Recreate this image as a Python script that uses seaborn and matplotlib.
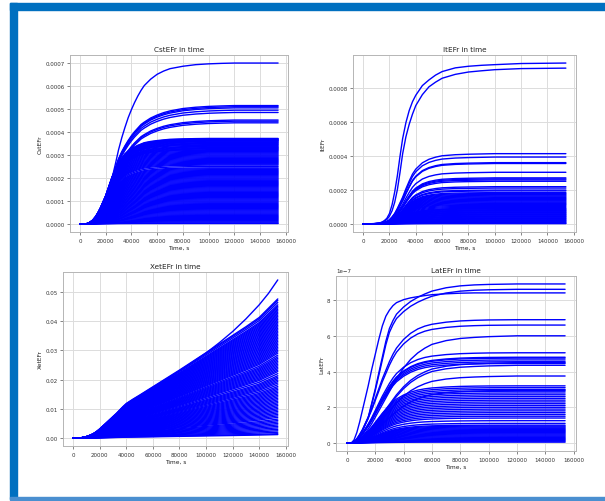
import numpy as np
import pandas as pd
import matplotlib
matplotlib.use("Agg")
import matplotlib.pyplot as plt
from matplotlib.ticker import MultipleLocator
from matplotlib.patches import Rectangle
import seaborn as sns

# ---------------- data ----------------
# CstEFr (plateaus in 1e-6, shapes = fraction of plateau)
cst_t = [0, 4000, 6000, 8000, 10000, 12000, 14000, 16000, 18000, 20000, 22500,
         25000, 27500, 30000, 32500, 35000, 37500, 40000, 42500, 45000, 47500,
         50000, 55000, 60000, 65000, 70000, 80000, 90000, 100000, 110000,
         120000, 135000, 154000]
cst_shape_slow = [0, 0, 0.003, 0.01, 0.025, 0.045, 0.07, 0.10, 0.13, 0.167, 0.22,
                  0.285, 0.37, 0.46, 0.535, 0.60, 0.66, 0.71, 0.755, 0.795, 0.83,
                  0.86, 0.90, 0.93, 0.95, 0.965, 0.98, 0.99, 0.995, 0.998, 1.0,
                  1.0, 1.0]
cst_shape_mid = [0, 0, 0.004, 0.015, 0.03, 0.055, 0.085, 0.12, 0.17, 0.23, 0.31,
                 0.39, 0.47, 0.55, 0.61, 0.66, 0.705, 0.745, 0.78, 0.81, 0.84,
                 0.86, 0.895, 0.92, 0.94, 0.955, 0.975, 0.986, 0.993, 0.997, 1.0,
                 1.0, 1.0]
cst_shape_fast = [0, 0, 0.005, 0.02, 0.045, 0.08, 0.13, 0.19, 0.26, 0.33, 0.44,
                  0.55, 0.64, 0.72, 0.77, 0.82, 0.855, 0.88, 0.90, 0.92, 0.935,
                  0.95, 0.965, 0.975, 0.983, 0.99, 0.995, 0.998, 1.0, 1.0, 1.0,
                  1.0, 1.0]
cst_slow = [700]
cst_mid = [515, 510, 505, 495, 485, 452, 447, 440]
cst_fast = [372, 370, 368, 366, 364, 362, 360, 357, 354, 351, 348, 345, 342, 338,
            335, 332, 329, 326, 323, 320, 316, 312, 308, 304, 300, 296, 292, 288,
            284, 280, 276, 272, 268, 264, 260, 256, 250, 244, 240, 236, 232, 228,
            224, 220, 216, 212, 208, 204, 200, 196, 192, 188, 184, 180, 176, 172,
            168, 164, 160, 156, 152, 148, 144, 140, 136, 132, 128, 124, 120, 116,
            112, 108, 104, 100, 96, 92, 88, 84, 80, 76, 72, 68, 64, 60, 56, 52,
            48, 44, 40, 36, 32, 28, 24, 20, 16, 12, 8, 4, 2]

# ItEFr (plateaus in 1e-6)
it_t = [0, 8000, 12000, 14000, 16000, 18000, 20000, 22000, 24000, 26000, 28000,
        30000, 32500, 35000, 37500, 40000, 45000, 50000, 55000, 60000, 70000,
        80000, 90000, 100000, 120000, 154000]
it_shape_top = [0, 0.002, 0.005, 0.01, 0.02, 0.035, 0.065, 0.12, 0.20, 0.30, 0.42,
                0.53, 0.63, 0.705, 0.76, 0.80, 0.86, 0.895, 0.925, 0.947, 0.97,
                0.98, 0.986, 0.99, 0.997, 1.0]
it_shape_second = [0, 0.002, 0.005, 0.01, 0.017, 0.028, 0.05, 0.085, 0.14, 0.22,
                   0.33, 0.45, 0.56, 0.64, 0.705, 0.76, 0.83, 0.88, 0.91, 0.935,
                   0.96, 0.975, 0.983, 0.99, 0.997, 1.0]
it_shape_mid = [0, 0.003, 0.008, 0.012, 0.02, 0.035, 0.06, 0.10, 0.15, 0.22, 0.30,
                0.38, 0.50, 0.61, 0.71, 0.78, 0.87, 0.92, 0.95, 0.97, 0.985,
                0.992, 0.996, 1.0, 1.0, 1.0]
it_top = [950]
it_second = [920]
it_mid = [415, 395, 362, 357, 305, 272, 266, 260, 252, 220, 212, 200, 195, 185,
          180, 175, 170, 165, 160, 155, 150, 145, 140, 135, 130, 125, 120, 115,
          110, 104, 98, 92, 88, 84, 80, 76, 72, 68, 64, 60, 56, 52, 48, 44, 40,
          36, 32, 28, 24, 20, 16, 12, 8, 4, 2]

# XetEFr (values in 1e-3); reference curves
xet_t = [0, 5000, 8000, 10000, 12500, 15000, 17500, 20000, 22500, 25000, 27500,
         30000, 32500, 35000, 37500, 40000, 42500, 45000, 50000, 60000, 70000,
         80000, 90000, 100000, 110000, 120000, 130000, 140000, 147000, 154000]
xet_top_curve = [0, 0.05, 0.25, 0.5, 0.9, 1.4, 2.1, 3.0, 4.0, 5.0, 6.0, 7.0, 8.0,
                 9.1, 10.2, 11.3, 12.2, 12.8, 13.8, 16.6, 19.6, 22.9, 25.9, 29.0,
                 32.5, 36.3, 40.6, 45.4, 49.3, 53.9]
xet_lin_curve = [0, 0.05, 0.25, 0.5, 0.9, 1.4, 2.1, 3.0, 4.0, 5.0, 6.0, 7.0, 8.0,
                 9.1, 10.2, 11.2, 11.9, 12.6, 13.9, 16.6, 19.3, 22.0, 24.8, 27.6,
                 30.4, 33.2, 36.0, 39.0, 42.0, 45.0]
xet_top = [54]
xet_lin = [47.5, 47, 46.3, 45.5, 45, 44.5, 44, 43.5, 43, 42.5, 42, 41.5, 41, 40.5,
           40, 39.5, 39, 38.5, 38, 37.5, 37, 36.5, 36, 35.5, 35, 34.5, 34, 33.5,
           33, 32.5, 32, 31.5, 31, 30.5, 30, 29.5, 29, 28.3, 27.7, 27.2, 26.7,
           26.2, 25.7, 25.2, 24.7, 24.2, 23.7, 23.2, 22.7, 22, 21.3, 20.8, 20.3,
           19.8, 19.3, 18.8, 18.2, 17.6, 17.1, 16.6, 16.1, 15.6, 15.1, 14.6, 14.1,
           13.6, 13.1, 12.6, 12.1, 11.6, 11.1, 10.6, 10.1, 9.6, 9.1, 8.6, 8.1,
           7.6, 7.1, 6.5, 6.0, 5.5, 5.0, 4.5, 4.0, 3.5, 3.0, 2.5, 2.0, 1.5, 1.2]

# LatEFr (plateaus in 1e-7)
lat_t = [0, 3000, 5000, 7000, 9000, 11000, 13000, 15000, 17500, 20000, 22500,
         25000, 27500, 30000, 32500, 35000, 40000, 45000, 50000, 55000, 60000,
         70000, 80000, 90000, 100000, 120000, 154000]
lat_shape_fast = [0, 0, 0.02, 0.07, 0.14, 0.22, 0.30, 0.38, 0.49, 0.59, 0.69,
                  0.78, 0.845, 0.885, 0.915, 0.935, 0.955, 0.967, 0.975, 0.982,
                  0.988, 0.994, 0.998, 1.0, 1.0, 1.0, 1.0]
lat_shape_top = [0, 0, 0.005, 0.02, 0.045, 0.08, 0.12, 0.16, 0.25, 0.34, 0.44,
                 0.54, 0.64, 0.72, 0.77, 0.81, 0.855, 0.89, 0.916, 0.937, 0.955,
                 0.976, 0.988, 0.994, 0.997, 1.0, 1.0]
lat_shape_mid = [0, 0, 0.01, 0.035, 0.07, 0.11, 0.16, 0.21, 0.28, 0.36, 0.44,
                 0.52, 0.59, 0.66, 0.72, 0.77, 0.84, 0.89, 0.925, 0.948, 0.963,
                 0.98, 0.99, 0.995, 0.998, 1.0, 1.0]
lat_shape_slow = [0, 0, 0.005, 0.02, 0.04, 0.065, 0.095, 0.13, 0.18, 0.24, 0.30,
                  0.36, 0.42, 0.48, 0.54, 0.60, 0.70, 0.78, 0.84, 0.885, 0.92,
                  0.955, 0.975, 0.985, 0.992, 1.0, 1.0]
lat_fast = [8.4]
lat_top = [8.9, 8.6]
lat_mid = [6.9, 6.6, 5.05, 4.8, 4.75, 4.65, 4.55, 4.45, 3.2, 3.1, 3.0, 2.9, 2.8,
           2.7, 2.6, 2.5, 2.4, 2.3, 2.2, 2.1, 2.0, 1.9, 1.8, 1.7, 1.6, 1.5, 1.4,
           1.25, 1.1, 1.0, 0.95, 0.9, 0.85, 0.8, 0.75, 0.7, 0.65, 0.6, 0.55, 0.5,
           0.45, 0.4, 0.35, 0.3, 0.25, 0.2, 0.15, 0.1, 0.05]
lat_slow = [6.0, 4.5, 4.35, 3.75, 2.95]

titles = ["CstEFr in time", "ItEFr in time", "XetEFr in time", "LatEFr in time"]
ylabels = ["CstEFr", "ItEFr", "XetEFr", "LatEFr"]


def build(times, groups, unit):
    rows = []
    cid = 0
    for shape, plateaus in groups:
        shape = np.asarray(shape, dtype=float)
        shape = shape / shape[-1]
        for p in plateaus:
            for t, f in zip(times, shape):
                rows.append((cid, t, p * unit * f))
            cid += 1
    return pd.DataFrame(rows, columns=["curve", "t", "v"])


panels = [
    build(cst_t, [(cst_shape_fast, cst_fast), (cst_shape_mid, cst_mid),
                  (cst_shape_slow, cst_slow)], 1e-6),
    build(it_t, [(it_shape_mid, it_mid), (it_shape_second, it_second),
                 (it_shape_top, it_top)], 1e-6),
    build(xet_t, [(xet_lin_curve, xet_lin), (xet_top_curve, xet_top)], 1e-3),
    build(lat_t, [(lat_shape_mid, lat_mid), (lat_shape_slow, lat_slow),
                  (lat_shape_top, lat_top), (lat_shape_fast, lat_fast)], 1e-7),
]

# ---------------- styling ----------------
sns.set_theme(style="whitegrid", rc={
    "grid.color": "#dcdcdc", "grid.linewidth": 0.7,
    "axes.edgecolor": "#b5b5b5", "axes.linewidth": 0.7,
    "xtick.bottom": True, "ytick.left": True,
    "xtick.major.size": 2.0, "ytick.major.size": 2.0,
    "xtick.major.width": 0.5, "ytick.major.width": 0.5,
    "xtick.color": "#555555", "ytick.color": "#555555",
    "xtick.labelcolor": "#333333", "ytick.labelcolor": "#333333",
    "xtick.major.pad": 2.0, "ytick.major.pad": 2.0,
})
plt.rcParams["font.family"] = ["DejaVu Sans"]

W, H = 605, 502
fig = plt.figure(figsize=(W / 100, H / 100), dpi=100)
fig.patch.set_facecolor("white")

# axes boxes in pixels: left, top, right, bottom
boxes = [(70, 56, 288, 233), (353, 56, 576, 233),
         (63, 273, 288, 447), (336, 277, 576, 452)]
ytick_steps = [0.0001, 0.0002, 0.01, 2e-7]

for i, (df, (l, t, r, b)) in enumerate(zip(panels, boxes)):
    ax = fig.add_axes([l / W, 1 - b / H, (r - l) / W, (b - t) / H])
    sns.lineplot(data=df, x="t", y="v", units="curve", estimator=None,
                 color="#0000ff", lw=1.0, legend=False, sort=False, ax=ax)
    ax.set_title(titles[i], fontsize=5.2, pad=3, color="#222222")
    ax.set_xlabel("Time, s", fontsize=4.2, labelpad=1.5, color="#222222")
    ax.set_ylabel(ylabels[i], fontsize=4.2, labelpad=2, color="#222222")
    ax.xaxis.set_major_locator(MultipleLocator(20000))
    ax.yaxis.set_major_locator(MultipleLocator(ytick_steps[i]))
    ax.tick_params(labelsize=4.0)
    ax.yaxis.get_offset_text().set_fontsize(4.0)
    ax.margins(x=0.05, y=0.05)

# blue frame of the screenshot
frame = "#0070c0"
fig.patches.append(Rectangle((10 / W, 1 - 11 / H), 1 - 10 / W, 7 / H,
                             transform=fig.transFigure, color=frame, zorder=10))
fig.patches.append(Rectangle((10 / W, 1 - 500 / H), 7 / W, 496 / H,
                             transform=fig.transFigure, color=frame, zorder=10))
fig.patches.append(Rectangle((10 / W, 1 - 501 / H), 1 - 10 / W, 3 / H,
                             transform=fig.transFigure, color="#4a8fd0", zorder=10))

fig.savefig("out.png", dpi=100, facecolor="white")
